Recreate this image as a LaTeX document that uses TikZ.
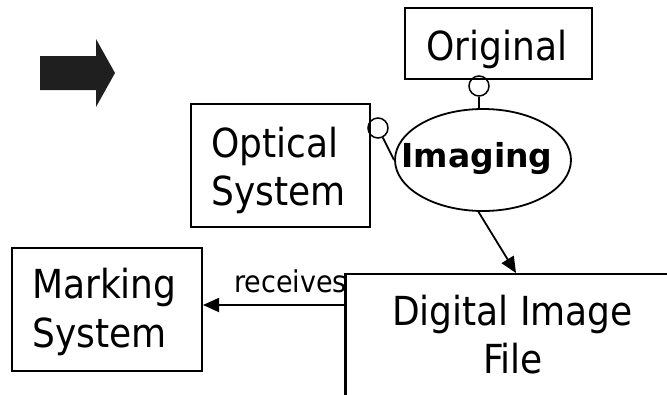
\documentclass[tikz,border=0pt]{standalone}
\usepackage{fontspec}
\setmainfont{DejaVu Sans Condensed}
\newfontfamily\boldface{DejaVu Sans Bold}
\usetikzlibrary{arrows.meta,calc,shapes.geometric}

\tikzset{
  box/.style={draw, line width=2pt, rectangle, inner sep=0pt},
  lbl/.style={inner sep=0pt, font=\fontsize{40}{48}\selectfont},
  small/.style={inner sep=0pt, font=\fontsize{30}{36}\selectfont},
  link/.style={line width=1.8pt},
  socket/.style={draw, circle, line width=1.5pt, minimum size=20pt, inner sep=0pt},
  tip/.style={-{Triangle[length=16pt,width=14pt]}}
}

\begin{document}
\begin{tikzpicture}[x=1pt, y=-1pt]
  \path[use as bounding box] (0,0) rectangle (667,394);
  \clip (0,0) rectangle (667,394);

  % block arrow on the left
  \fill[black!88] (40,56) -- (96,56) -- (96,39) -- (115,73) -- (96,107)
    -- (96,90) -- (40,90) -- cycle;

  % boxes
  \node[box, minimum width=187pt, minimum height=71pt] (orig) at (498.5,43.5) {};
  \node[box, minimum width=179pt, minimum height=123pt] (optical) at (280.5,165.5) {};
  \node[box, minimum width=190pt, minimum height=123pt] (mark) at (107,309.5) {};
  \node[box, minimum width=360pt, minimum height=180pt, anchor=north west] (dig) at (345,273) {};
  \node[draw, ellipse, line width=1.8pt, minimum width=176pt, minimum height=102pt, inner sep=0pt]
    (img) at (483,160) {};

  % texts
  \node[lbl, anchor=base] (origtxt) at (497,60) {Original};
  \node[lbl, anchor=base west] (opt1) at (211,157) {Optical};
  \node[lbl, anchor=base west] (opt2) at (211,205) {System};
  \node[lbl, anchor=base west] (mark1) at (32,298) {Marking};
  \node[lbl, anchor=base west] (mark2) at (32,347) {System};
  \node[lbl, anchor=base] (dig1) at (512.5,325) {Digital Image};
  \node[lbl, anchor=base] (dig2) at (513,373) {File};
  \node[inner sep=0pt, anchor=base, font=\boldface\fontsize{33}{40}\selectfont]
    (imgtxt) at (477,167) {Imaging};

  % ball-and-socket links into Imaging
  \node[socket] (sockorig) at (479,86) {};
  \node[socket] (sockopt) at (378,128) {};
  \draw[link] (sockorig.south) -- (sockorig.south |- img.north);
  \draw[link] (sockopt) -- (img.west);

  % Imaging produces the digital image file
  \coordinate (digin) at ($(dig.north west)+(171,0)$);
  \draw[link, tip] (img.-95) -- (digin);

  % the marking system receives the file
  \coordinate (recv) at ($(dig.north west)+(0,32)$);
  \node[small, anchor=base west] (recvtxt) at (234,292) {receives};
  \draw[link, tip] (recv) -- (recv -| mark.east);
  \draw[line width=2pt] (dig.north west) -- (dig.south west);
\end{tikzpicture}
\end{document}
